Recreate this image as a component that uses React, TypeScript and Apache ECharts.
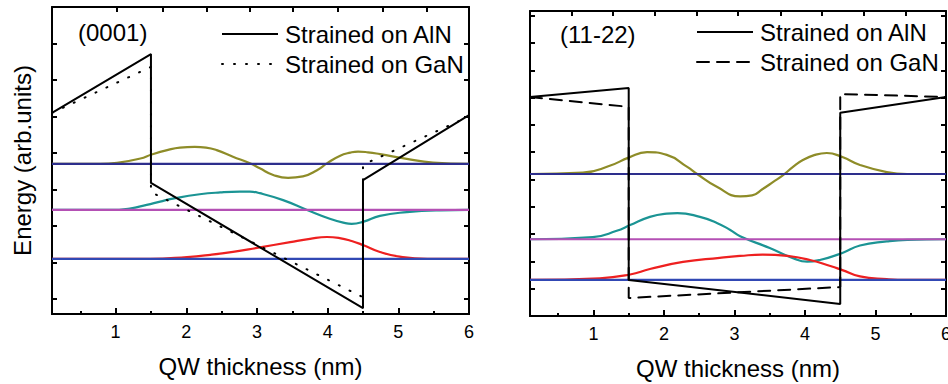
import React, { useEffect, useRef } from "react";
import * as echarts from "echarts";

// ---------- data ----------
const X_MIN = 0.1;
const X_MAX = 6;
const xTickLabels = [1, 2, 3, 4, 5, 6];
const xMinorTicks = [0.5, 1.5, 2.5, 3.5, 4.5, 5.5];
const topTicksA = [1.02, 1.67, 2.29, 2.9, 3.51, 4.15, 4.78, 5.4];
const topTicksB = [0.69, 1.28, 1.87, 2.46, 3.05, 3.65, 4.24, 4.84, 5.43];
const yTicksA = [0, 1, 2, 3, 4, 5, 6, 7];
const yTicksB = [1, 2, 3, 4, 5, 6, 7, 8, 9, 10, 11];
const yRangeA = [-0.41, 8];
const yRangeB = [0, 11.17];

const panelTitles = ["(0001)", "(11-22)"];
const legendNames = ["Strained on AlN", "Strained on GaN"];

// (0001) panel
const alnA = [[0.1, 5.1], [1.5, 6.71], [1.5, 3.18], [4.5, -0.25], [4.5, 3.26], [6.0, 5.04]];
const ganA = [[0.1, 5.1], [1.5, 6.36], [1.5, 2.93], [4.5, 0.05], [4.5, 3.68], [6.0, 5.0]];
const levelsA = [3.7, 2.44, 1.1];
const oliveA = [
  [0.1, 3.7], [0.78, 3.7], [1.02, 3.73], [1.35, 3.85], [1.51, 3.96], [1.73, 4.08], [1.91, 4.15],
  [2.12, 4.17], [2.28, 4.15], [2.43, 4.08], [2.66, 3.9], [2.9, 3.72], [3.04, 3.58], [3.23, 3.4],
  [3.44, 3.32], [3.65, 3.36], [3.85, 3.53], [4.0, 3.73], [4.17, 3.92], [4.32, 4.01], [4.43, 4.04],
  [4.57, 4.02], [4.74, 3.97], [5.12, 3.84], [5.49, 3.74], [6.0, 3.7],
];
const tealA = [
  [0.1, 2.44], [0.92, 2.44], [1.2, 2.48], [1.44, 2.58], [1.63, 2.67], [1.81, 2.75], [2.19, 2.87],
  [2.48, 2.92], [2.76, 2.94], [2.9, 2.94], [3.04, 2.9], [3.37, 2.71], [3.71, 2.44], [4.03, 2.2],
  [4.25, 2.08], [4.34, 2.06], [4.51, 2.12], [4.74, 2.28], [5.12, 2.38], [5.59, 2.43], [6.0, 2.44],
];
const redA = [
  [0.1, 1.1], [1.49, 1.1], [2.01, 1.15], [2.34, 1.21], [2.66, 1.29], [3.0, 1.4], [3.47, 1.56],
  [3.75, 1.65], [3.99, 1.7], [4.17, 1.67], [4.34, 1.59], [4.5, 1.48], [4.74, 1.29], [5.02, 1.16],
  [5.41, 1.1], [6.0, 1.1],
];

// (11-22) panel
const alnB = [[0.1, 8.02], [1.5, 8.35], [1.5, 1.32], [4.5, 0.44], [4.5, 7.44], [6.0, 8.02]];
const ganB = [[0.1, 8.02], [1.5, 7.66], [1.5, 0.66], [4.5, 1.06], [4.5, 8.13], [6.0, 8.02]];
const levelsB = [5.2, 2.81, 1.32];
const oliveB = [
  [0.1, 5.2], [0.85, 5.25], [1.23, 5.5], [1.5, 5.8], [1.76, 6.0], [2.04, 5.9], [2.33, 5.46],
  [2.47, 5.2], [2.75, 4.73], [3.08, 4.38], [3.25, 4.42], [3.4, 4.65], [3.55, 4.91], [3.69, 5.16],
  [3.83, 5.46], [3.97, 5.71], [4.14, 5.9], [4.31, 5.97], [4.53, 5.82], [4.78, 5.53], [5.16, 5.27],
  [5.45, 5.2], [6.0, 5.2],
];
const tealB = [
  [0.1, 2.81], [0.99, 2.89], [1.33, 3.12], [1.52, 3.33], [1.8, 3.63], [2.04, 3.75], [2.19, 3.77],
  [2.51, 3.63], [2.75, 3.41], [2.94, 3.15], [3.08, 2.92], [3.5, 2.49], [3.83, 2.12], [4.03, 1.99],
  [4.21, 2.05], [4.53, 2.31], [4.78, 2.58], [5.16, 2.73], [5.45, 2.79], [6.0, 2.81],
];
const redB = [
  [0.1, 1.32], [1.09, 1.38], [1.52, 1.52], [1.8, 1.72], [2.27, 1.98], [2.79, 2.13], [3.08, 2.2],
  [3.4, 2.25], [3.75, 2.2], [4.07, 2.05], [4.36, 1.83], [4.53, 1.68], [4.78, 1.45], [5.16, 1.35],
  [5.45, 1.32], [6.0, 1.32],
];

// ---------- styles ----------
const FONT = "'Liberation Sans', Arial, sans-serif";
const levelColors = ["#2d2e8c", "#b450b4", "#3148b4"];
const curveColors = { olive: "#8e8c28", teal: "#1b9494", red: "#ee2020" };

function lineSeries(data: number[][], color: string, xi: number, yi: number, extra: any = {}) {
  return {
    type: "line",
    data,
    xAxisIndex: xi,
    yAxisIndex: yi,
    symbol: "none",
    silent: true,
    lineStyle: { color, width: 2, ...(extra.lineStyle || {}) },
    smooth: extra.smooth ?? false,
    z: extra.z ?? 2,
  };
}

function panelSeries(
  aln: number[][], gan: number[][], levels: number[], olive: number[][], teal: number[][], red: number[][],
  xi: number, yi: number, ganDash: number[]
) {
  const s: any[] = [];
  const cs = { smooth: 0.5, lineStyle: { width: 2.2 } };
  s.push(lineSeries(olive, curveColors.olive, xi, yi, cs));
  s.push(lineSeries(teal, curveColors.teal, xi, yi, cs));
  s.push(lineSeries(red, curveColors.red, xi, yi, cs));
  levels.forEach((v, i) => s.push(lineSeries([[X_MIN, v], [X_MAX, v]], levelColors[i], xi, yi, { z: 3, lineStyle: { width: 2.2 } })));
  s.push(lineSeries(gan, "#000", xi, yi, { lineStyle: { type: ganDash, cap: "round" }, z: 4 }));
  s.push(lineSeries(aln, "#000", xi, yi, { z: 5 }));
  return s;
}

function bottomAxis(grid: number) {
  return {
    type: "value", gridIndex: grid, position: "bottom", min: X_MIN, max: X_MAX,
    axisLine: { show: true, onZero: false, lineStyle: { color: "#000", width: 2 } },
    axisTick: { show: true, inside: true, length: 6, customValues: xTickLabels, lineStyle: { color: "#000", width: 2 } },
    axisLabel: { show: true, customValues: xTickLabels, color: "#000", fontSize: 18, fontFamily: FONT, margin: 9 },
    splitLine: { show: false },
    name: "QW thickness (nm)", nameLocation: "middle", nameGap: 40,
    nameTextStyle: { color: "#000", fontSize: 24, fontFamily: FONT },
  };
}
function topAxis(grid: number, ticks: number[]) {
  return {
    type: "value", gridIndex: grid, position: "top", min: X_MIN, max: X_MAX,
    axisLine: { show: true, onZero: false, lineStyle: { color: "#000", width: 2 } },
    axisTick: { show: true, inside: true, length: 5, customValues: ticks, lineStyle: { color: "#000", width: 2 } },
    axisLabel: { show: false },
    splitLine: { show: false },
  };
}
function minorAxis(grid: number) {
  return {
    type: "value", gridIndex: grid, position: "bottom", min: X_MIN, max: X_MAX,
    axisLine: { show: true, onZero: false, lineStyle: { color: "#000", width: 2 } },
    axisTick: { show: true, inside: true, length: 3, customValues: xMinorTicks, lineStyle: { color: "#000", width: 2 } },
    axisLabel: { show: false },
    splitLine: { show: false },
  };
}
function yAxisCfg(grid: number, pos: string, range: number[], ticks: number[], name?: string) {
  return {
    type: "value", gridIndex: grid, position: pos, min: range[0], max: range[1],
    axisLine: { show: true, onZero: false, lineStyle: { color: "#000", width: 2 } },
    axisTick: { show: true, inside: true, length: 5, customValues: ticks, lineStyle: { color: "#000", width: 2 } },
    axisLabel: { show: false },
    splitLine: { show: false },
    name: name || "", nameLocation: "middle", nameGap: 18,
    nameTextStyle: { color: "#000", fontSize: 24, fontFamily: FONT },
  };
}

function legendGraphics(x0: number, y1: number, y2: number, dash: number[]) {
  return [
    { type: "line", shape: { x1: x0, y1, x2: x0 + 56, y2: y1 }, style: { stroke: "#000", lineWidth: 2 } },
    { type: "line", shape: { x1: x0, y1: y2, x2: x0 + 56, y2 }, style: { stroke: "#000", lineWidth: 2, lineDash: dash, lineCap: "round" } },
    { type: "text", x: x0 + 63, y: y1, style: { text: legendNames[0], fill: "#000", fontSize: 24, fontFamily: FONT, verticalAlign: "middle" } },
    { type: "text", x: x0 + 63, y: y2, style: { text: legendNames[1], fill: "#000", fontSize: 24, fontFamily: FONT, verticalAlign: "middle" } },
  ];
}

export default function App() {
  const ref = useRef<HTMLDivElement>(null);
  useEffect(() => {
    if (!ref.current) return;
    const chart = echarts.init(ref.current, null, { renderer: "svg" });
    const gA = { left: 52, top: 7, width: 417, height: 307, outerBoundsMode: "none" };
    const gB = { left: 530, top: 11, width: 416, height: 305, outerBoundsMode: "none" };
    const dotted = [1, 11];
    const dashed = [12, 8];
    chart.setOption({
      animation: false,
      backgroundColor: "#fff",
      grid: [gA, gA, gB, gB],
      xAxis: [bottomAxis(0), topAxis(0, topTicksA), minorAxis(1), bottomAxis(2), topAxis(2, topTicksB), minorAxis(3)],
      yAxis: [
        yAxisCfg(0, "left", yRangeA, yTicksA, "Energy (arb.units)"),
        yAxisCfg(1, "right", yRangeA, yTicksA),
        yAxisCfg(2, "left", yRangeB, yTicksB),
        yAxisCfg(3, "right", yRangeB, yTicksB),
      ],
      series: [
        ...panelSeries(alnA, ganA, levelsA, oliveA, tealA, redA, 0, 0, dotted),
        ...panelSeries(alnB, ganB, levelsB, oliveB, tealB, redB, 3, 2, dashed),
      ],
      graphic: [
        { type: "text", x: 78, y: 32, style: { text: panelTitles[0], fill: "#000", fontSize: 24, fontFamily: FONT, verticalAlign: "middle" } },
        { type: "text", x: 560, y: 34, style: { text: panelTitles[1], fill: "#000", fontSize: 24, fontFamily: FONT, verticalAlign: "middle" } },
        ...legendGraphics(222, 34, 64, dotted),
        ...legendGraphics(697, 32, 62, dashed),
      ],
    });
    return () => chart.dispose();
  }, []);
  return <div ref={ref} style={{ position: "fixed", left: 0, top: 0, width: 948, height: 384 }} />;
}
